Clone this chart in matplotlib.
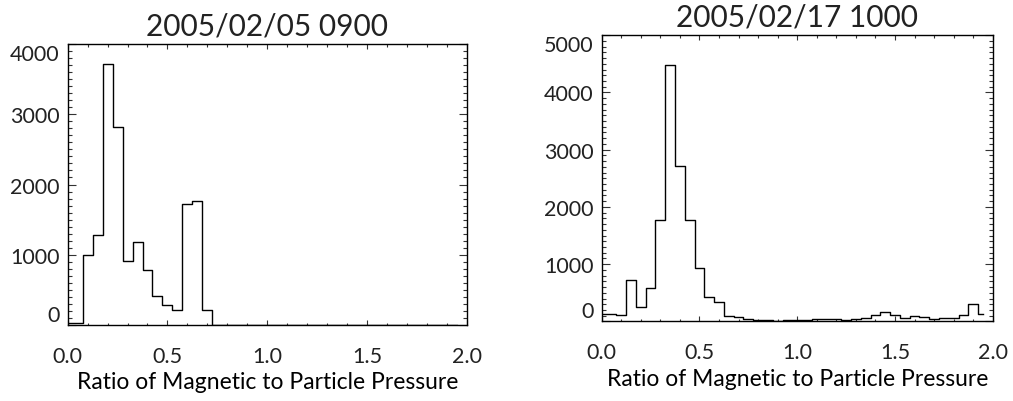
import matplotlib
matplotlib.use("Agg")
import matplotlib.pyplot as plt
from matplotlib.ticker import MultipleLocator

# bin centres of the pressure-ratio histograms
ratio = [round(0.05 * i, 2) for i in range(40)]

counts_0205 = [25, 25, 995, 1275, 3720, 2815, 910, 1180, 790, 420,
               280, 210, 1725, 1760, 213, 0, 0, 0, 0, 0,
               0, 0, 0, 0, 0, 0, 0, 0, 0, 0,
               0, 0, 0, 0, 0, 0, 0, 0, 0, 0]
counts_0217 = [130, 130, 110, 720, 260, 580, 1780, 4480, 2715, 1775,
               930, 435, 345, 100, 75, 40, 30, 20, 15, 20,
               25, 30, 35, 35, 40, 30, 40, 60, 110, 170,
               110, 52, 100, 70, 40, 52, 52, 110, 310, 128]

titles = ["2005/02/05 0900", "2005/02/17 1000"]
xlabel = "Ratio of Magnetic to Particle Pressure"
ytop = [4000, 5000]

plt.rcParams['font.family'] = ['Lato', 'DejaVu Sans']
plt.rcParams['text.color'] = '#222222'
plt.rcParams['xtick.labelcolor'] = '#222222'
plt.rcParams['ytick.labelcolor'] = '#222222'

fig = plt.figure(figsize=(10.13, 4.02), dpi=100)
ax1 = fig.add_axes([0.0668, 0.189, 0.394, 0.699])
ax2 = fig.add_axes([0.594, 0.198, 0.386, 0.712])

for ax, counts, title, top in zip([ax1, ax2], [counts_0205, counts_0217], titles, ytop):
    ax.step(ratio, counts, where='mid', color='black', lw=1.0)
    ax.set_xlim(0, 2.0)
    ax.set_ylim(0, top)
    ax.set_xticks([0.0, 0.5, 1.0, 1.5, 2.0])
    ax.set_xticklabels(["0.0", "0.5", "1.0", "1.5", "2.0"])
    ax.xaxis.set_minor_locator(MultipleLocator(0.1))
    ax.set_yticks(range(0, top + 1, 1000))
    ax.yaxis.set_minor_locator(MultipleLocator(100))
    ax.tick_params(axis='both', which='both', direction='in', top=True, right=True,
                   width=0.8, color='#333333')
    ax.tick_params(axis='x', which='major', length=3.6, pad=15, labelsize=15.5)
    ax.tick_params(axis='x', which='minor', length=1.8)
    ax.tick_params(axis='y', which='major', length=5.8, pad=6, labelsize=15.5)
    ax.tick_params(axis='y', which='minor', length=2.9)
    for s in ax.spines.values():
        s.set_linewidth(1.0)
    ax.set_title(title, fontsize=21.5, pad=7)
    ax.set_xlabel(xlabel, fontsize=16.5, labelpad=4)
    yt = ax.yaxis.get_major_ticks()
    yt[0].label1.set_va('bottom')
    yt[-1].label1.set_va('top')

fig.savefig("out.png", dpi=100)
